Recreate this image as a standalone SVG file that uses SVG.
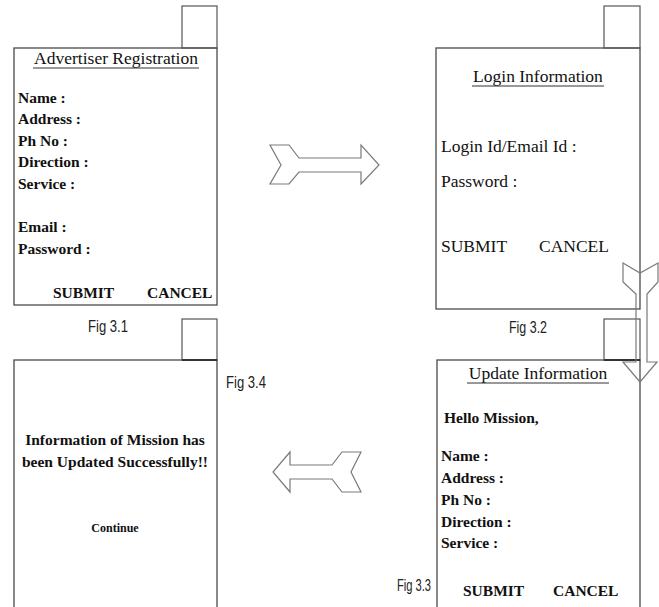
<svg xmlns="http://www.w3.org/2000/svg" width="659" height="607" viewBox="0 0 659 607">
  <style>
    .frame { fill: none; stroke: #4a4a4a; stroke-width: 1.3; }
    .tab { fill: none; stroke: #555; stroke-width: 1.2; }
    .tabbase { stroke: #333; stroke-width: 2; }
    .arrow { fill: none; stroke: #7a7a7a; stroke-width: 1.2; stroke-linejoin: miter; }
    .lbl { font-family: "Liberation Serif", "Times New Roman", serif; font-size: 15.5px; font-weight: bold; fill: #111; }
    .reg { font-family: "Liberation Serif", "Times New Roman", serif; font-size: 17.5px; fill: #111; }
    .fig { font-family: "Liberation Sans", Arial, sans-serif; font-size: 16px; fill: #222; }
    .ul { stroke: #333; stroke-width: 1; }
  </style>

  <rect width="659" height="607" fill="#ffffff"/>

  <g id="fig31">
    <rect class="frame" x="14" y="48" width="203" height="257"/>
    <rect class="tab" x="182" y="6" width="35" height="42"/>
    <text class="reg" x="116" y="64" text-anchor="middle">Advertiser Registration</text>
    <line class="ul" x1="33" y1="68" x2="199" y2="68"/>
    <text class="lbl" x="18" y="103">Name :</text>
    <text class="lbl" x="18" y="124">Address :</text>
    <text class="lbl" x="18" y="146">Ph No :</text>
    <text class="lbl" x="18" y="167">Direction :</text>
    <text class="lbl" x="18" y="189">Service :</text>
    <text class="lbl" x="18" y="232">Email :</text>
    <text class="lbl" x="18" y="254">Password :</text>
    <text class="lbl" x="53" y="298">SUBMIT</text>
    <text class="lbl" x="147" y="298">CANCEL</text>
    <text class="fig" x="88" y="332" textLength="40" lengthAdjust="spacingAndGlyphs">Fig 3.1</text>
  </g>

  <g id="fig32">
    <rect class="frame" x="436" y="48" width="204" height="261"/>
    <rect class="tab" x="604" y="6" width="36" height="42"/>
    <text class="reg" x="538" y="82" text-anchor="middle">Login Information</text>
    <line class="ul" x1="472" y1="86" x2="604" y2="86"/>
    <text class="reg" x="441" y="152">Login Id/Email Id :</text>
    <text class="reg" x="441" y="187">Password :</text>
    <text class="reg" x="441" y="252">SUBMIT</text>
    <text class="reg" x="539" y="252">CANCEL</text>
    <text class="fig" x="509" y="333" textLength="38" lengthAdjust="spacingAndGlyphs">Fig 3.2</text>
  </g>

  <g id="fig33">
    <rect class="frame" x="437" y="360" width="203" height="260"/>
    <rect class="tab" x="604" y="319" width="36" height="41"/>
    <line class="tabbase" x1="604" y1="360" x2="640" y2="360"/>
    <text class="reg" x="538" y="379" text-anchor="middle">Update Information</text>
    <line class="ul" x1="467" y1="383" x2="609" y2="383"/>
    <text class="lbl" x="444" y="423">Hello Mission,</text>
    <text class="lbl" x="441" y="461">Name :</text>
    <text class="lbl" x="441" y="483">Address :</text>
    <text class="lbl" x="441" y="505">Ph No :</text>
    <text class="lbl" x="441" y="527">Direction :</text>
    <text class="lbl" x="441" y="548">Service :</text>
    <text class="lbl" x="463" y="596">SUBMIT</text>
    <text class="lbl" x="553" y="596">CANCEL</text>
    <text class="fig" x="397" y="591" textLength="34" lengthAdjust="spacingAndGlyphs">Fig 3.3</text>
  </g>

  <g id="fig34">
    <rect class="frame" x="14" y="360" width="203" height="260"/>
    <rect class="tab" x="182" y="319" width="35" height="41"/>
    <line class="tabbase" x1="182" y1="360" x2="217" y2="360"/>
    <text class="lbl" x="115" y="445" text-anchor="middle">Information of Mission has</text>
    <text class="lbl" x="115" y="467" text-anchor="middle">been Updated Successfully!!</text>
    <text class="lbl" x="115" y="532" text-anchor="middle" style="font-size:12px">Continue</text>
    <text class="fig" x="226" y="388" textLength="40" lengthAdjust="spacingAndGlyphs">Fig 3.4</text>
  </g>

  <g id="connectors">
    <polygon class="arrow" points="270,145 289,145 299,158 361,158 361,145 379,165 361,184 361,172 299,172 289,184 270,184 281,165"/>
    <polygon class="arrow" points="623,263 640,273 658,263 658,282 647,294 647,362 657,362 640,382 623,362 636,362 636,294 623,282"/>
    <polygon class="arrow" points="361,452 342,452 332,465 290,465 290,452 273,472 290,492 290,479 332,479 342,492 361,492 351,472"/>
  </g>
</svg>
